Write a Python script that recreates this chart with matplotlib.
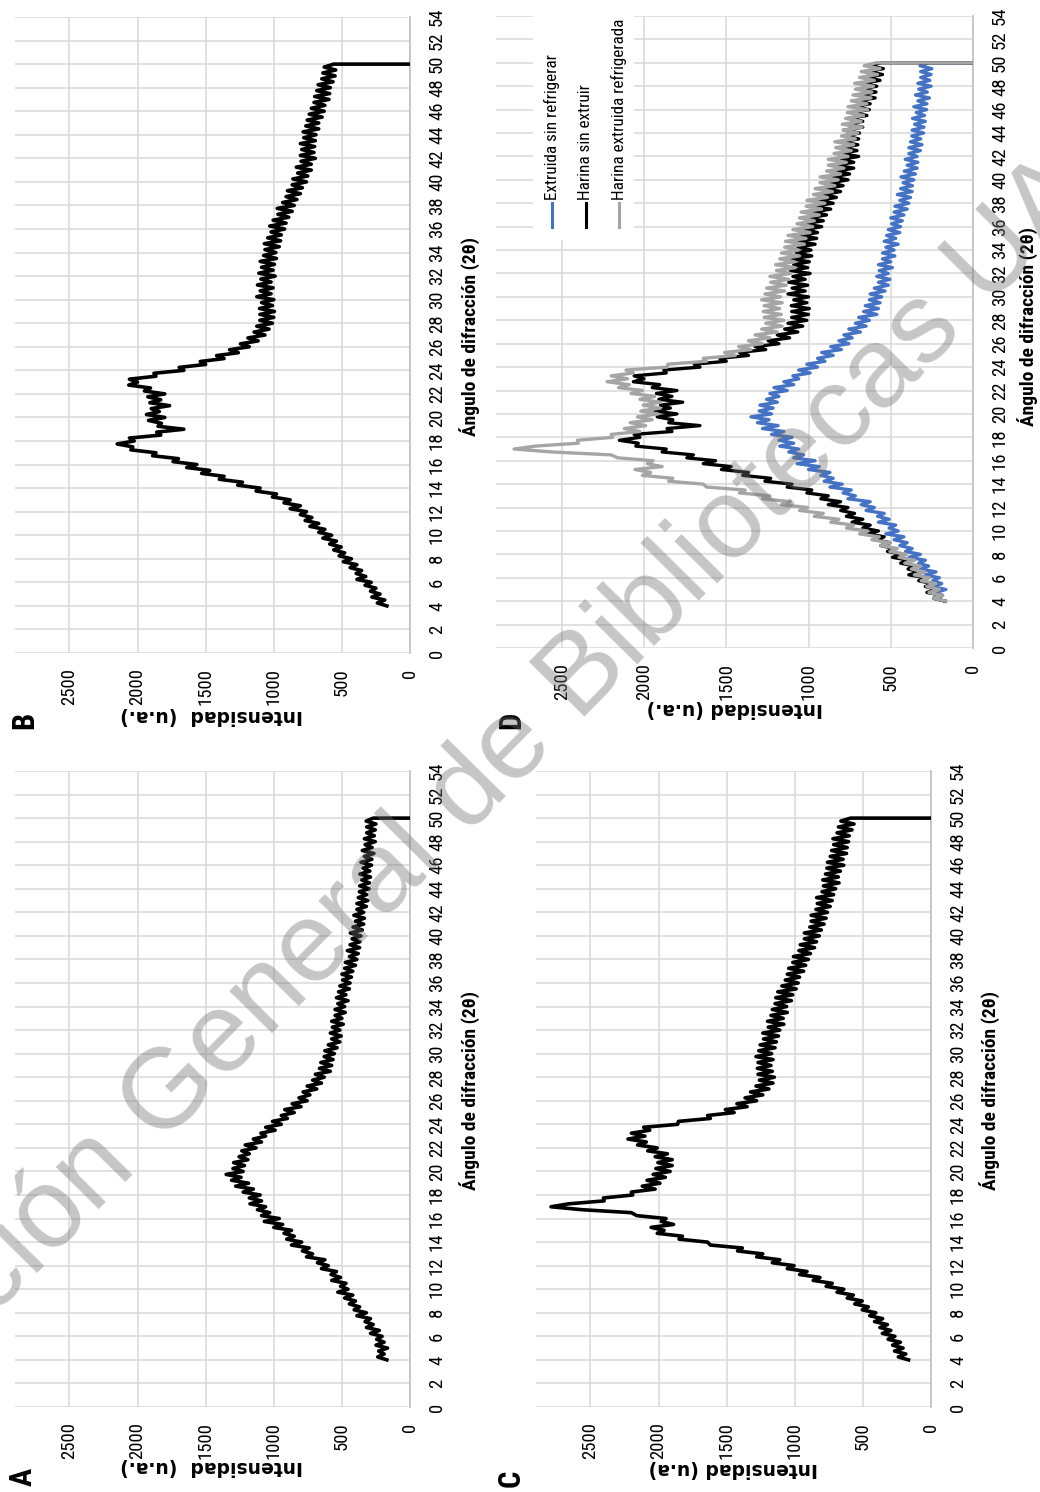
import matplotlib
matplotlib.use("Agg")
import matplotlib.pyplot as plt
from matplotlib import font_manager
from matplotlib.lines import Line2D
from matplotlib.patches import Rectangle

### Difractogramas (angulo 2-theta vs intensidad), pagina girada 90 grados
angle = [4.0, 4.25, 4.5, 4.75, 5.0, 5.25, 5.5, 5.75, 6.0, 6.25,
         6.5, 6.75, 7.0, 7.25, 7.5, 7.75, 8.0, 8.25, 8.5, 8.75,
         9.0, 9.25, 9.5, 9.75, 10.0, 10.25, 10.5, 10.75, 11.0, 11.25,
         11.5, 11.75, 12.0, 12.25, 12.5, 12.75, 13.0, 13.25, 13.5, 13.75,
         14.0, 14.25, 14.5, 14.75, 15.0, 15.25, 15.5, 15.75, 16.0, 16.25,
         16.5, 16.75, 17.0, 17.25, 17.5, 17.75, 18.0, 18.25, 18.5, 18.75,
         19.0, 19.25, 19.5, 19.75, 20.0, 20.25, 20.5, 20.75, 21.0, 21.25,
         21.5, 21.75, 22.0, 22.25, 22.5, 22.75, 23.0, 23.25, 23.5, 23.75,
         24.0, 24.25, 24.5, 24.75, 25.0, 25.25, 25.5, 25.75, 26.0, 26.25,
         26.5, 26.75, 27.0, 27.25, 27.5, 27.75, 28.0, 28.25, 28.5, 28.75,
         29.0, 29.25, 29.5, 29.75, 30.0, 30.25, 30.5, 30.75, 31.0, 31.25,
         31.5, 31.75, 32.0, 32.25, 32.5, 32.75, 33.0, 33.25, 33.5, 33.75,
         34.0, 34.25, 34.5, 34.75, 35.0, 35.25, 35.5, 35.75, 36.0, 36.25,
         36.5, 36.75, 37.0, 37.25, 37.5, 37.75, 38.0, 38.25, 38.5, 38.75,
         39.0, 39.25, 39.5, 39.75, 40.0, 40.25, 40.5, 40.75, 41.0, 41.25,
         41.5, 41.75, 42.0, 42.25, 42.5, 42.75, 43.0, 43.25, 43.5, 43.75,
         44.0, 44.25, 44.5, 44.75, 45.0, 45.25, 45.5, 45.75, 46.0, 46.25,
         46.5, 46.75, 47.0, 47.25, 47.5, 47.75, 48.0, 48.25, 48.5, 48.75,
         49.0, 49.25, 49.5, 49.75, 50.0, 50.0]

# A - Extruida sin refrigerar
extruida_sin_refrigerar = [
    170, 237, 190, 230, 165, 250, 190, 245, 205, 290,
    225, 320, 270, 330, 290, 390, 320, 410, 370, 445,
    400, 480, 420, 530, 455, 510, 470, 575, 510, 580,
    540, 650, 600, 680, 625, 760, 715, 790, 740, 870,
    795, 905, 850, 925, 870, 1000, 935, 1070, 960, 1090,
    1030, 1120, 1060, 1175, 1090, 1180, 1100, 1225, 1150, 1280,
    1185, 1310, 1240, 1350, 1225, 1300, 1215, 1295, 1190, 1255,
    1180, 1235, 1130, 1210, 1090, 1150, 1060, 1095, 990, 1060,
    945, 1010, 900, 945, 850, 920, 800, 865, 755, 815,
    735, 785, 685, 755, 650, 715, 630, 695, 585, 665,
    575, 655, 565, 630, 555, 625, 535, 600, 515, 575,
    505, 585, 515, 570, 490, 575, 500, 550, 475, 550,
    480, 530, 455, 540, 470, 525, 445, 515, 440, 495,
    430, 500, 420, 480, 400, 475, 390, 445, 380, 460,
    370, 440, 368, 425, 360, 438, 350, 418, 340, 400,
    335, 412, 340, 390, 320, 390, 310, 380, 318, 372,
    300, 370, 298, 355, 290, 368, 295, 345, 282, 360,
    280, 335, 265, 350, 278, 330, 255, 335, 262, 318,
    255, 318, 250, 322, 270, 0]

# B - Harina sin extruir
harina_sin_extruir = [
    170, 240, 185, 280, 220, 290, 250, 330, 285, 390,
    325, 395, 355, 440, 390, 490, 430, 520, 480, 560,
    505, 590, 540, 640, 575, 670, 625, 735, 670, 770,
    720, 805, 760, 880, 805, 925, 880, 1010, 980, 1130,
    1100, 1265, 1230, 1400, 1365, 1530, 1470, 1640, 1565, 1740,
    1700, 1890, 1865, 2050, 2035, 2150, 2025, 2060, 1830, 1860,
    1660, 1850, 1825, 1920, 1800, 1935, 1840, 1900, 1765, 1910,
    1830, 1925, 1800, 1950, 1905, 2065, 2000, 2060, 1865, 1880,
    1660, 1695, 1500, 1540, 1365, 1420, 1260, 1325, 1180, 1245,
    1115, 1190, 1065, 1145, 1035, 1125, 1010, 1103, 1000, 1102,
    995, 1105, 1010, 1090, 1000, 1125, 1020, 1100, 1005, 1120,
    1020, 1095, 990, 1110, 1005, 1090, 995, 1100, 980, 1075,
    985, 1065, 960, 1070, 950, 1045, 945, 1020, 920, 1030,
    910, 1005, 890, 970, 865, 975, 850, 935, 830, 910,
    805, 900, 790, 865, 760, 860, 750, 825, 725, 835,
    725, 800, 695, 805, 705, 795, 700, 805, 695, 780,
    690, 785, 670, 765, 670, 755, 645, 740, 630, 725,
    625, 705, 595, 700, 590, 685, 585, 675, 565, 648,
    550, 640, 545, 630, 560, 0]

# C - Harina extruida refrigerada
harina_extruida_refrigerada = [
    165, 240, 185, 268, 205, 282, 225, 315, 265, 357,
    295, 375, 320, 415, 355, 450, 405, 505, 460, 560,
    505, 615, 570, 690, 640, 770, 725, 865, 815, 965,
    910, 1055, 1005, 1165, 1110, 1280, 1235, 1420, 1385, 1620,
    1640, 1850, 1825, 2010, 1960, 2055, 1890, 1980, 1945, 2160,
    2200, 2560, 2790, 2660, 2400, 2405, 2190, 2200, 2025, 2120,
    1990, 2085, 1950, 2040, 1915, 2020, 1900, 2005, 1900, 2025,
    1935, 2080, 2010, 2155, 2090, 2225, 2100, 2200, 2065, 2110,
    1860, 1855, 1620, 1640, 1445, 1510, 1350, 1425, 1280, 1365,
    1235, 1325, 1190, 1285, 1160, 1260, 1150, 1270, 1165, 1275,
    1175, 1270, 1160, 1285, 1170, 1265, 1145, 1255, 1135, 1230,
    1120, 1235, 1110, 1195, 1080, 1200, 1085, 1175, 1055, 1165,
    1060, 1145, 1025, 1140, 1015, 1125, 990, 1095, 975, 1070,
    965, 1055, 935, 1045, 920, 1015, 900, 1010, 885, 970,
    855, 960, 840, 930, 820, 930, 805, 890, 785, 880,
    770, 880, 760, 845, 740, 835, 725, 840, 715, 800,
    700, 790, 675, 795, 680, 775, 665, 765, 640, 760,
    645, 740, 620, 730, 615, 715, 605, 720, 600, 690,
    580, 680, 565, 662, 590, 0]

series_names = ["Extruida sin refrigerar", "Harina sin extruir",
                "Harina extruida refrigerada"]
series_colors = ["#4472C4", "#000000", "#A5A5A5"]

angle_ticks = list(range(0, 55, 2))
intensity_ticks = [0, 500, 1000, 1500, 2000, 2500]

# fuente estrecha si existe, si no Liberation Sans un poco mas chica
names = {f.name for f in font_manager.fontManager.ttflist}
NARROW = None
for cand in ["Liberation Sans Narrow", "Roboto Condensed", "Open Sans Condensed", "Arial Narrow"]:
    if cand in names:
        NARROW = cand
        break
if NARROW:
    TICK, LEG, XLAB, LET = 13.5, 12.3, 14, 22
else:
    NARROW = "Liberation Sans"
    TICK, LEG, XLAB, LET = 11.5, 10.8, 11.7, 20

W, H = 1040, 1492
fig = plt.figure(figsize=(W / 100, H / 100), dpi=100)


def box(x0, y0, x1, y1):
    # pixel box (top-left origin) -> figure fraction
    return [x0 / W, 1 - y1 / H, (x1 - x0) / W, (y1 - y0) / H]


def ftext(x, y, s, **kw):
    fig.text(x / W, 1 - y / H, s, **kw)


def setup(ax):
    ax.set_xlim(2900, 0)
    ax.set_ylim(0, 54)
    ax.yaxis.tick_right()
    ax.set_xticks(intensity_ticks, [str(t) for t in intensity_ticks],
                  rotation=90, ha="center", va="top", family=NARROW, size=TICK)
    ax.set_yticks(angle_ticks, [str(t) for t in angle_ticks],
                  rotation=90, ha="left", va="center", family=NARROW, size=TICK)
    ax.tick_params(length=0)
    ax.tick_params(axis="x", pad=11)
    ax.tick_params(axis="y", pad=13)
    ax.grid(True, color="#d9d9d9", lw=1.1)
    ax.set_axisbelow(True)
    for s in ["top", "left", "bottom"]:
        ax.spines[s].set_visible(False)
    ax.spines["right"].set_color("#c0c0c0")
    ax.spines["right"].set_linewidth(1.2)


panels = {
    "A": box(15, 771, 410, 1407),
    "B": box(15, 17, 410, 653),
    "C": box(536, 771, 931, 1407),
    "D": box(496, 16, 973, 648),
}
single = {"A": extruida_sin_refrigerar, "B": harina_sin_extruir,
          "C": harina_extruida_refrigerada}

axes = {}
for key, rect in panels.items():
    ax = fig.add_axes(rect)
    setup(ax)
    axes[key] = ax

for key, vals in single.items():
    axes[key].plot(vals, angle, color="black", lw=2.6, zorder=3)

axD = axes["D"]
for vals, c in zip([extruida_sin_refrigerar, harina_sin_extruir,
                    harina_extruida_refrigerada], series_colors):
    axD.plot(vals, angle, color=c, lw=2.4, zorder=3)

# leyenda girada (a mano)
axD.add_patch(Rectangle(((533 - 496) / 477, (648 - 240) / 632), (634 - 533) / 477,
                        1.02 - (648 - 240) / 632, transform=axD.transAxes,
                        facecolor="white", edgecolor="none", zorder=2, clip_on=False))
for xc, name, c in zip([552, 586, 619], series_names, series_colors):
    fig.add_artist(Line2D([xc / W, xc / W], [1 - 227 / H, 1 - 203 / H],
                          color=c, lw=2.2))
    ftext(xc, 200, name, rotation=90, ha="center", va="bottom",
          family=NARROW, size=LEG)

# etiquetas de ejes
bold_wide = dict(family="DejaVu Sans", weight="bold", size=13.5,
                 rotation=180, ha="center", va="center")
ftext(212, 715, "Intensidad  (u.a.)", **bold_wide)
ftext(212, 1467, "Intensidad  (u.a.)", **bold_wide)
ftext(733, 1468, "Intensidad (u.a)", **bold_wide)
ftext(735, 709, "Intensidad (u.a.)", **bold_wide)

xlab = dict(family=[NARROW, "DejaVu Sans"], weight="bold", size=XLAB,
            rotation=90, ha="center", va="center")
ftext(470, 336, "Ángulo de difracción (2θ)", **xlab)
ftext(470, 1090, "Ángulo de difracción (2θ)", **xlab)
ftext(990, 1090, "Ángulo de difracción (2θ)", **xlab)
ftext(1028, 326, "Ángulo de difracción (2θ)", **xlab)

letter = dict(family=NARROW, weight="bold", size=LET, rotation=90,
              ha="center", va="center")
ftext(23, 1477, "A", **letter)
ftext(24, 720, "B", **letter)
ftext(511, 1478, "C", **letter)
ftext(511, 720, "D", **letter)

# marca de agua
fig.text(462 / W, 1 - 800 / H, "Dirección General de Bibliotecas UAQ",
         rotation=45.4, rotation_mode="anchor", ha="center", va="center",
         family="Liberation Sans", size=82, color="#707070", alpha=0.4,
         zorder=10)

fig.savefig("out.png", dpi=100)
